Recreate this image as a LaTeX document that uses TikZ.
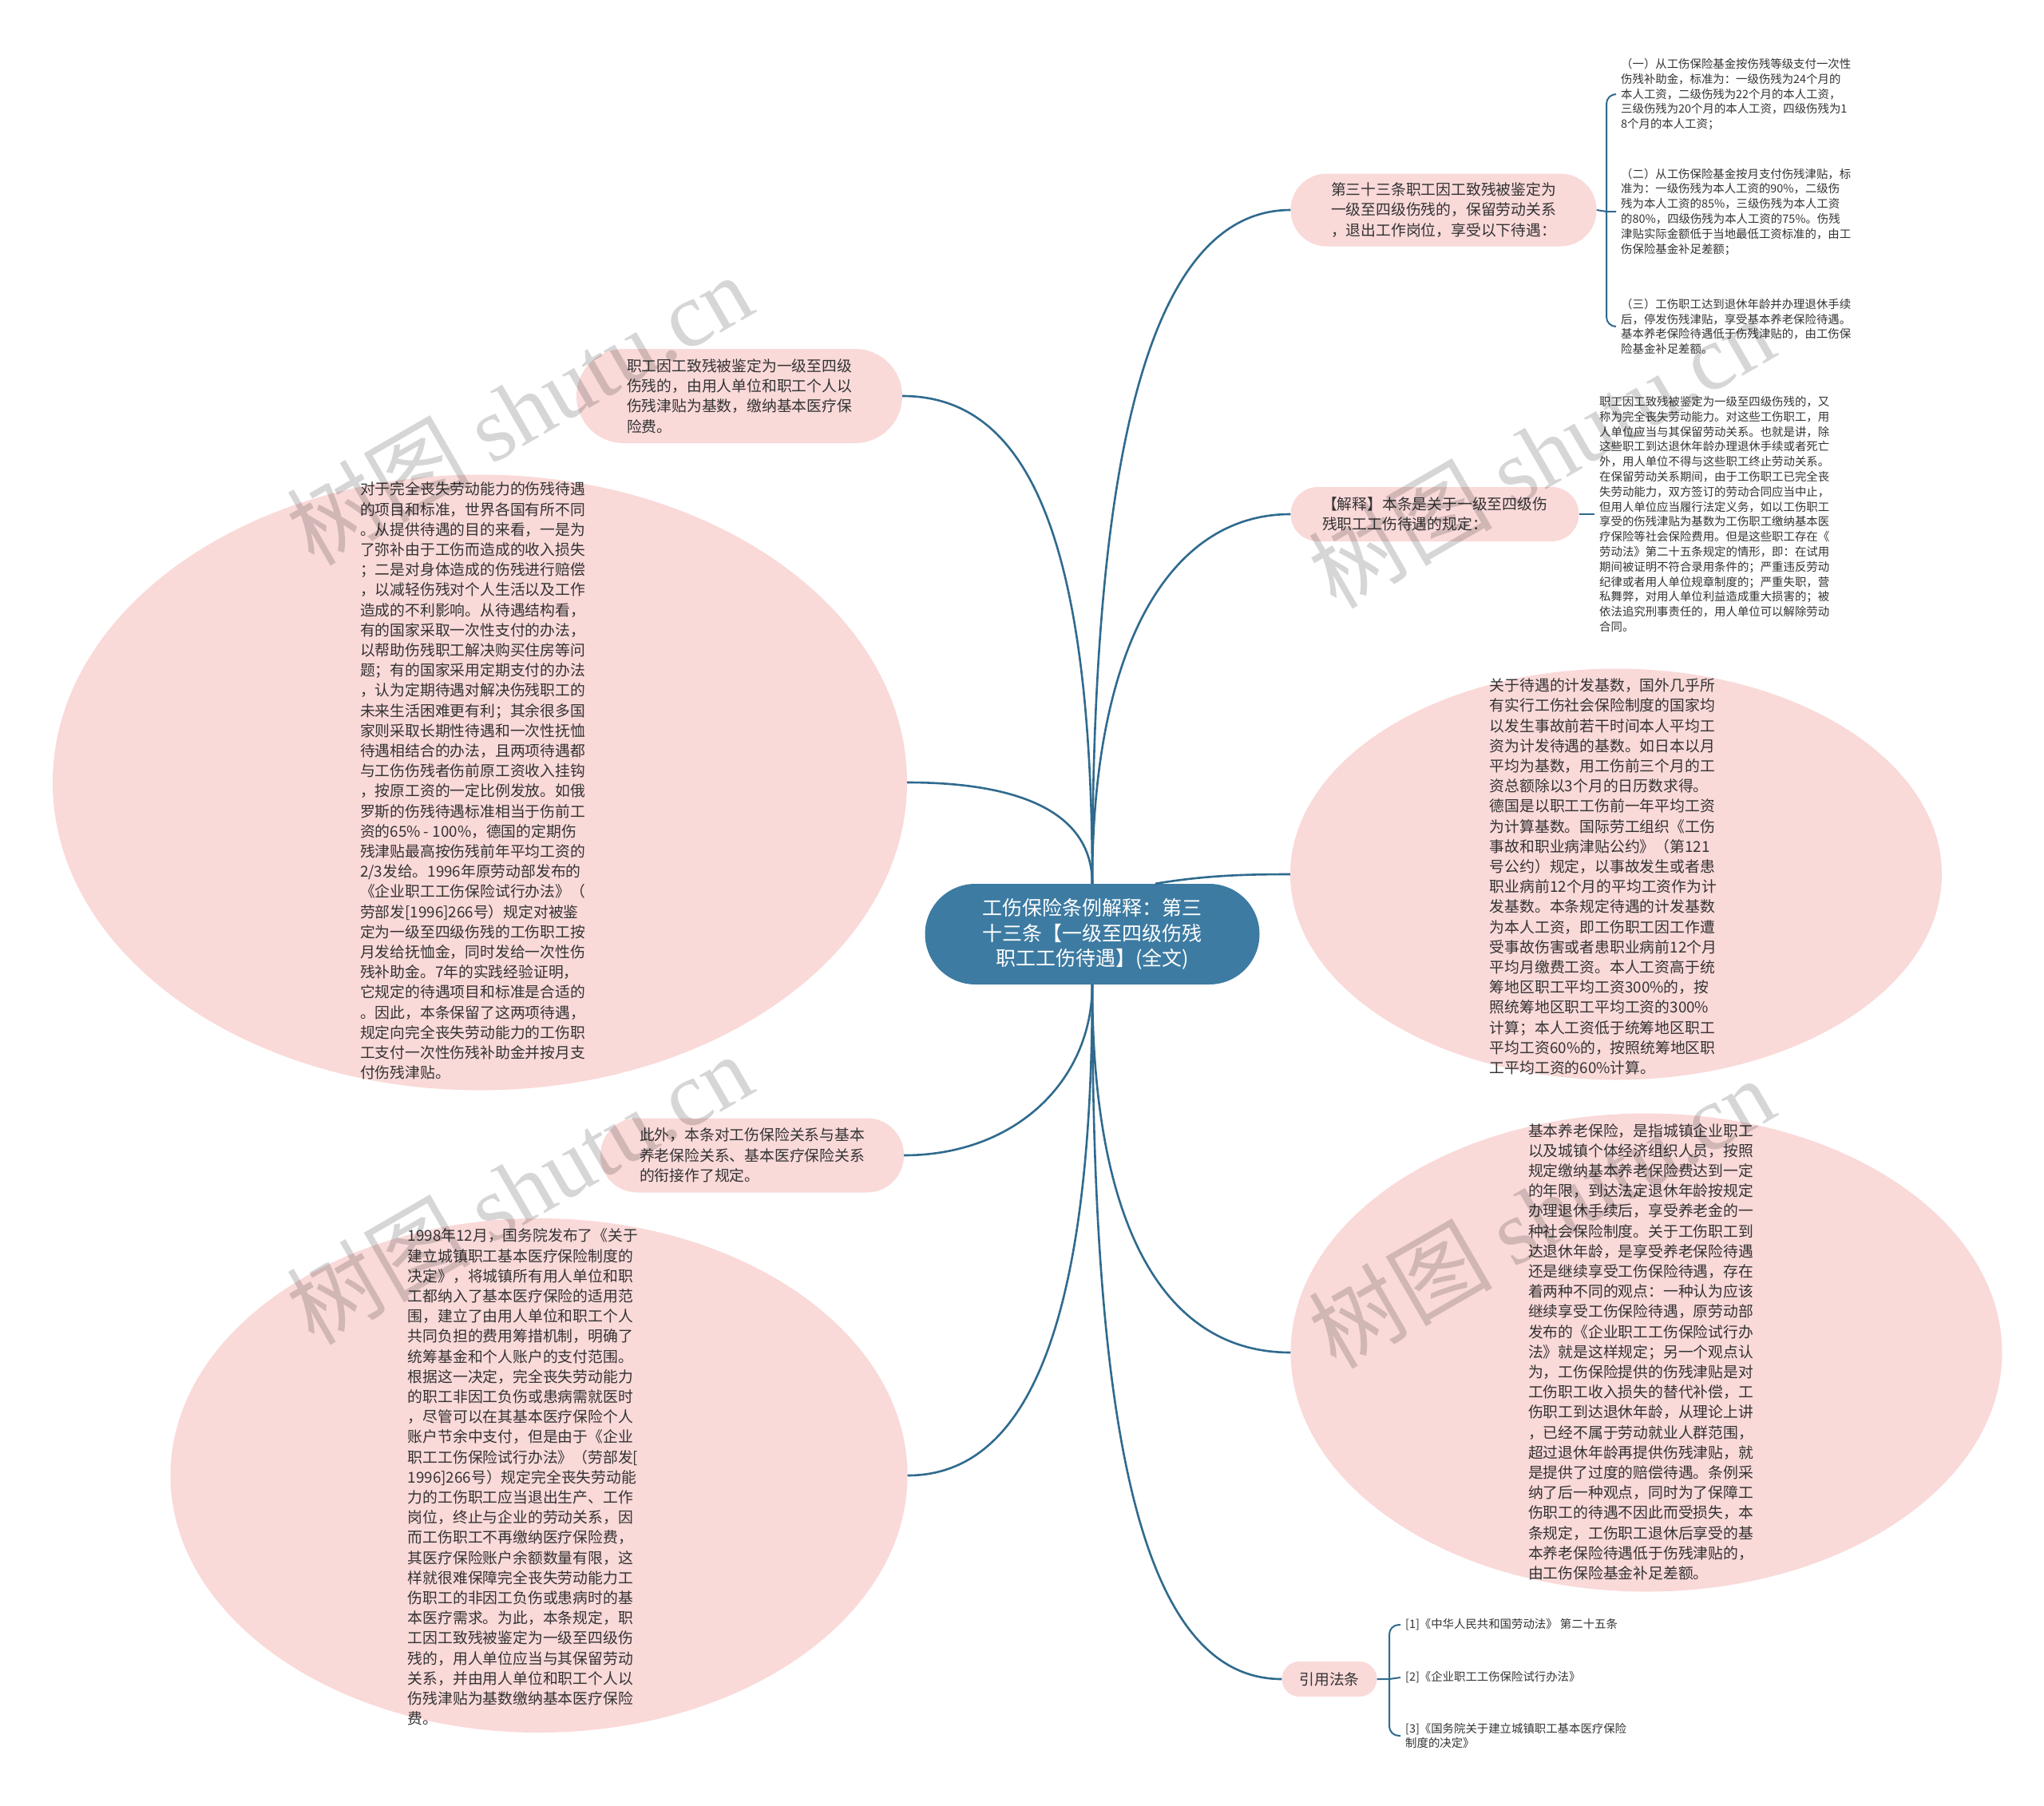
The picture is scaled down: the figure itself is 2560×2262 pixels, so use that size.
\documentclass[tikz,border=0pt]{standalone}
\usepackage{fontspec}
\setmainfont{Noto Sans CJK SC}
\newfontfamily\wmlatin{Liberation Serif}
\usetikzlibrary{calc,shapes.geometric}

\definecolor{pinkbg}{HTML}{FAD9D9}
\definecolor{stem}{HTML}{2F6A8E}
\definecolor{rootbg}{HTML}{3D7BA2}
\definecolor{inkgray}{HTML}{333333}

\newcommand\txtbig{\fontsize{18.8}{25.2}\selectfont}
\newcommand\txtsmall{\fontsize{14.4}{18.8}\selectfont}
\newcommand\txtroot{\fontsize{25}{31.7}\selectfont}

\tikzset{
  rootnode/.style={fill=rootbg, text=white, rounded corners=63pt, minimum width=419pt,
    minimum height=126pt, align=center, font=\txtroot, inner sep=0pt},
  pill/.style={fill=pinkbg, text=inkgray, rounded corners=#1, align=left, font=\txtbig, inner sep=0pt},
  blob/.style={ellipse, fill=pinkbg, inner sep=0pt},
  blobtext/.style={text=inkgray, align=left, font=\txtbig, inner sep=0pt},
  leaf/.style={anchor=west, text=inkgray, align=left, font=\txtsmall, inner sep=6pt},
  branch/.style={draw=stem, line width=2.6pt},
  twig/.style={draw=stem, line width=2pt},
  wmark/.style={rotate=30, text=black, opacity=0.16, font=\fontsize{115}{115}\selectfont}
}

\begin{document}
\begin{tikzpicture}[x=1pt,y=-1pt]
    % Canvas
    \fill[white] (0,0) rectangle (2560,2262);
    \useasboundingbox (0,0) rectangle (2560,2262);

    % Left side
    \node[pill=59pt, minimum width=408pt, minimum height=118pt] (tl) at (926,496)
      {职工因工致残被鉴定为一级至四级\\伤残的，由用人单位和职工个人以\\伤残津贴为基数，缴纳基本医疗保\\险费。};
    \node[blob, minimum width=1070pt, minimum height=771pt] (lb) at (601,980) {};
    \node[blobtext] (lbt) at (592,978)
      {对于完全丧失劳动能力的伤残待遇\\
       的项目和标准，世界各国有所不同\\
       。从提供待遇的目的来看，一是为\\
       了弥补由于工伤而造成的收入损失\\
       ；二是对身体造成的伤残进行赔偿\\
       ，以减轻伤残对个人生活以及工作\\
       造成的不利影响。从待遇结构看，\\
       有的国家采取一次性支付的办法，\\
       以帮助伤残职工解决购买住房等问\\
       题；有的国家采用定期支付的办法\\
       ，认为定期待遇对解决伤残职工的\\
       未来生活困难更有利；其余很多国\\
       家则采取长期性待遇和一次性抚恤\\
       待遇相结合的办法，且两项待遇都\\
       与工伤伤残者伤前原工资收入挂钩\\
       ，按原工资的一定比例发放。如俄\\
       罗斯的伤残待遇标准相当于伤前工\\
       资的65\% - 100\%，德国的定期伤\\
       残津贴最高按伤残前年平均工资的\\
       2/3发给。1996年原劳动部发布的\\
       《企业职工工伤保险试行办法》（\\
       劳部发[1996]266号）规定对被鉴\\
       定为一级至四级伤残的工伤职工按\\
       月发给抚恤金，同时发给一次性伤\\
       残补助金。7年的实践经验证明，\\
       它规定的待遇项目和标准是合适的\\
       。因此，本条保留了这两项待遇，\\
       规定向完全丧失劳动能力的工伤职\\
       工支付一次性伤残补助金并按月支\\
       付伤残津贴。};
    \node[pill=46pt, minimum width=380pt, minimum height=93pt] (ml) at (942,1447)
      {此外，本条对工伤保险关系与基本\\养老保险关系、基本医疗保险关系\\的衔接作了规定。};
    \node[blob, minimum width=923pt, minimum height=644pt] (bl) at (675,1848) {};
    \node[blobtext] (blt) at (655,1850)
      {1998年12月，国务院发布了《关于\\
       建立城镇职工基本医疗保险制度的\\
       决定》，将城镇所有用人单位和职\\
       工都纳入了基本医疗保险的适用范\\
       围，建立了由用人单位和职工个人\\
       共同负担的费用筹措机制，明确了\\
       统筹基金和个人账户的支付范围。\\
       根据这一决定，完全丧失劳动能力\\
       的职工非因工负伤或患病需就医时\\
       ，尽管可以在其基本医疗保险个人\\
       账户节余中支付，但是由于《企业\\
       职工工伤保险试行办法》（劳部发[\\
       1996]266号）规定完全丧失劳动能\\
       力的工伤职工应当退出生产、工作\\
       岗位，终止与企业的劳动关系，因\\
       而工伤职工不再缴纳医疗保险费，\\
       其医疗保险账户余额数量有限，这\\
       样就很难保障完全丧失劳动能力工\\
       伤职工的非因工负伤或患病时的基\\
       本医疗需求。为此，本条规定，职\\
       工因工致残被鉴定为一级至四级伤\\
       残的，用人单位应当与其保留劳动\\
       关系，并由用人单位和职工个人以\\
       伤残津贴为基数缴纳基本医疗保险\\
       费。};

    % Right side
    \node[pill=45pt, minimum width=383pt, minimum height=91pt] (tr1) at (1808,263)
      {第三十三条职工因工致残被鉴定为\\一级至四级伤残的，保留劳动关系\\，退出工作岗位，享受以下待遇：};
    \node[pill=34pt, minimum width=361pt, minimum height=68pt] (tr2) at (1797,644)
      {【解释】本条是关于一级至四级伤\\残职工工伤待遇的规定：};
    \node[blob, minimum width=816pt, minimum height=515pt] (rb1) at (2024,1095) {};
    \node[blobtext] (rb1t) at (2008,1098)
      {关于待遇的计发基数，国外几乎所\\
       有实行工伤社会保险制度的国家均\\
       以发生事故前若干时间本人平均工\\
       资为计发待遇的基数。如日本以月\\
       平均为基数，用工伤前三个月的工\\
       资总额除以3个月的日历数求得。\\
       德国是以职工工伤前一年平均工资\\
       为计算基数。国际劳工组织《工伤\\
       事故和职业病津贴公约》（第121\\
       号公约）规定，以事故发生或者患\\
       职业病前12个月的平均工资作为计\\
       发基数。本条规定待遇的计发基数\\
       为本人工资，即工伤职工因工作遭\\
       受事故伤害或者患职业病前12个月\\
       平均月缴费工资。本人工资高于统\\
       筹地区职工平均工资300\%的，按\\
       照统筹地区职工平均工资的300\%\\
       计算；本人工资低于统筹地区职工\\
       平均工资60\%的，按照统筹地区职\\
       工平均工资的60\%计算。};
    \node[blob, minimum width=891pt, minimum height=599pt] (rb2) at (2062,1694) {};
    \node[blobtext] (rb2t) at (2055,1693)
      {基本养老保险，是指城镇企业职工\\
       以及城镇个体经济组织人员，按照\\
       规定缴纳基本养老保险费达到一定\\
       的年限，到达法定退休年龄按规定\\
       办理退休手续后，享受养老金的一\\
       种社会保险制度。关于工伤职工到\\
       达退休年龄，是享受养老保险待遇\\
       还是继续享受工伤保险待遇，存在\\
       着两种不同的观点：一种认为应该\\
       继续享受工伤保险待遇，原劳动部\\
       发布的《企业职工工伤保险试行办\\
       法》就是这样规定；另一个观点认\\
       为，工伤保险提供的伤残津贴是对\\
       工伤职工收入损失的替代补偿，工\\
       伤职工到达退休年龄，从理论上讲\\
       ，已经不属于劳动就业人群范围，\\
       超过退休年龄再提供伤残津贴，就\\
       是提供了过度的赔偿待遇。条例采\\
       纳了后一种观点，同时为了保障工\\
       伤职工的待遇不因此而受损失，本\\
       条规定，工伤职工退休后享受的基\\
       本养老保险待遇低于伤残津贴的，\\
       由工伤保险基金补足差额。};
    \node[pill=22pt, minimum width=119pt, minimum height=44pt] (law) at (1665,2103) {引用法条};

    % Leaves
    \node[leaf] (it1) at (2024,118)
      {（一）从工伤保险基金按伤残等级支付一次性\\伤残补助金，标准为：一级伤残为24个月的\\本人工资，二级伤残为22个月的本人工资，\\三级伤残为20个月的本人工资，四级伤残为1\\8个月的本人工资；};
    \node[leaf] (it2) at (2024,265)
      {（二）从工伤保险基金按月支付伤残津贴，标\\准为：一级伤残为本人工资的90\%，二级伤\\残为本人工资的85\%，三级伤残为本人工资\\的80\%，四级伤残为本人工资的75\%。伤残\\津贴实际金额低于当地最低工资标准的，由工\\伤保险基金补足差额；};
    \node[leaf] (it3) at (2024,409)
      {（三）工伤职工达到退休年龄并办理退休手续\\后，停发伤残津贴，享受基本养老保险待遇。\\基本养老保险待遇低于伤残津贴的，由工伤保\\险基金补足差额。};
    \node[leaf] (ex) at (1997,644)
      {职工因工致残被鉴定为一级至四级伤残的，又\\
       称为完全丧失劳动能力。对这些工伤职工，用\\
       人单位应当与其保留劳动关系。也就是讲，除\\
       这些职工到达退休年龄办理退休手续或者死亡\\
       外，用人单位不得与这些职工终止劳动关系。\\
       在保留劳动关系期间，由于工伤职工已完全丧\\
       失劳动能力，双方签订的劳动合同应当中止，\\
       但用人单位应当履行法定义务，如以工伤职工\\
       享受的伤残津贴为基数为工伤职工缴纳基本医\\
       疗保险等社会保险费用。但是这些职工存在《\\
       劳动法》第二十五条规定的情形，即：在试用\\
       期间被证明不符合录用条件的；严重违反劳动\\
       纪律或者用人单位规章制度的；严重失职，营\\
       私舞弊，对用人单位利益造成重大损害的；被\\
       依法追究刑事责任的，用人单位可以解除劳动\\
       合同。};
    \node[leaf] (ref1) at (1754,2035) {[1]《中华人民共和国劳动法》 第二十五条};
    \node[leaf] (ref2) at (1754,2101) {[2]《企业职工工伤保险试行办法》};
    \node[leaf] (ref3) at (1754,2174) {[3]《国务院关于建立城镇职工基本医疗保险\\制度的决定》};

    % Root
    \node[rootnode] (root) at (1368,1170) {工伤保险条例解释：第三\\十三条【一级至四级伤残\\职工工伤待遇】(全文)};

    % Branches
    \draw[branch] (root.north) .. controls +(0,-450) and +(150,0) .. (tl.east);
    \draw[branch] (root.north) .. controls +(0,-90) and +(140,0) .. (lb.east);
    \draw[branch] (root.north) .. controls +(0,-450) and +(-200,0) .. (tr1.west);
    \draw[branch] (root.north) .. controls +(0,-300) and +(-150,0) .. (tr2.west);
    \draw[branch] ($(root.north)+(79,0)$) .. controls +(60,-10) and +(-60,0) .. (rb1.west);
    \draw[branch] (root.south) .. controls +(0,120) and +(140,0) .. (ml.east);
    \draw[branch] (root.south) .. controls +(0,400) and +(160,0) .. (bl.east);
    \draw[branch] (root.south) .. controls +(0,300) and +(-160,0) .. (rb2.west);
    \draw[branch] (root.south) .. controls +(0,550) and +(-180,0) .. (law.west);

    % Twigs
    \coordinate (f1) at (2012,265);
    \draw[twig] (tr1.east) -- (f1) -- (it2.west);
    \foreach \leaf in {it1,it3}
      \draw[twig, rounded corners=12pt] (f1) |- (\leaf.west);
    \draw[twig] (tr2.east) -- (ex.west);
    \coordinate (f2) at (1740,2103);
    \draw[twig] (law.east) -- (f2) -- (ref2.west);
    \foreach \leaf in {ref1,ref3}
      \draw[twig, rounded corners=12pt] (f2) |- (\leaf.west);

    % Watermarks
    \foreach \wx/\wy [count=\i] in {650/512, 1930/566, 650/1488, 1930/1518}
      \node[wmark] (wm\i) at (\wx,\wy) {树图 {\wmlatin shutu.cn}};
\end{tikzpicture}
\end{document}
